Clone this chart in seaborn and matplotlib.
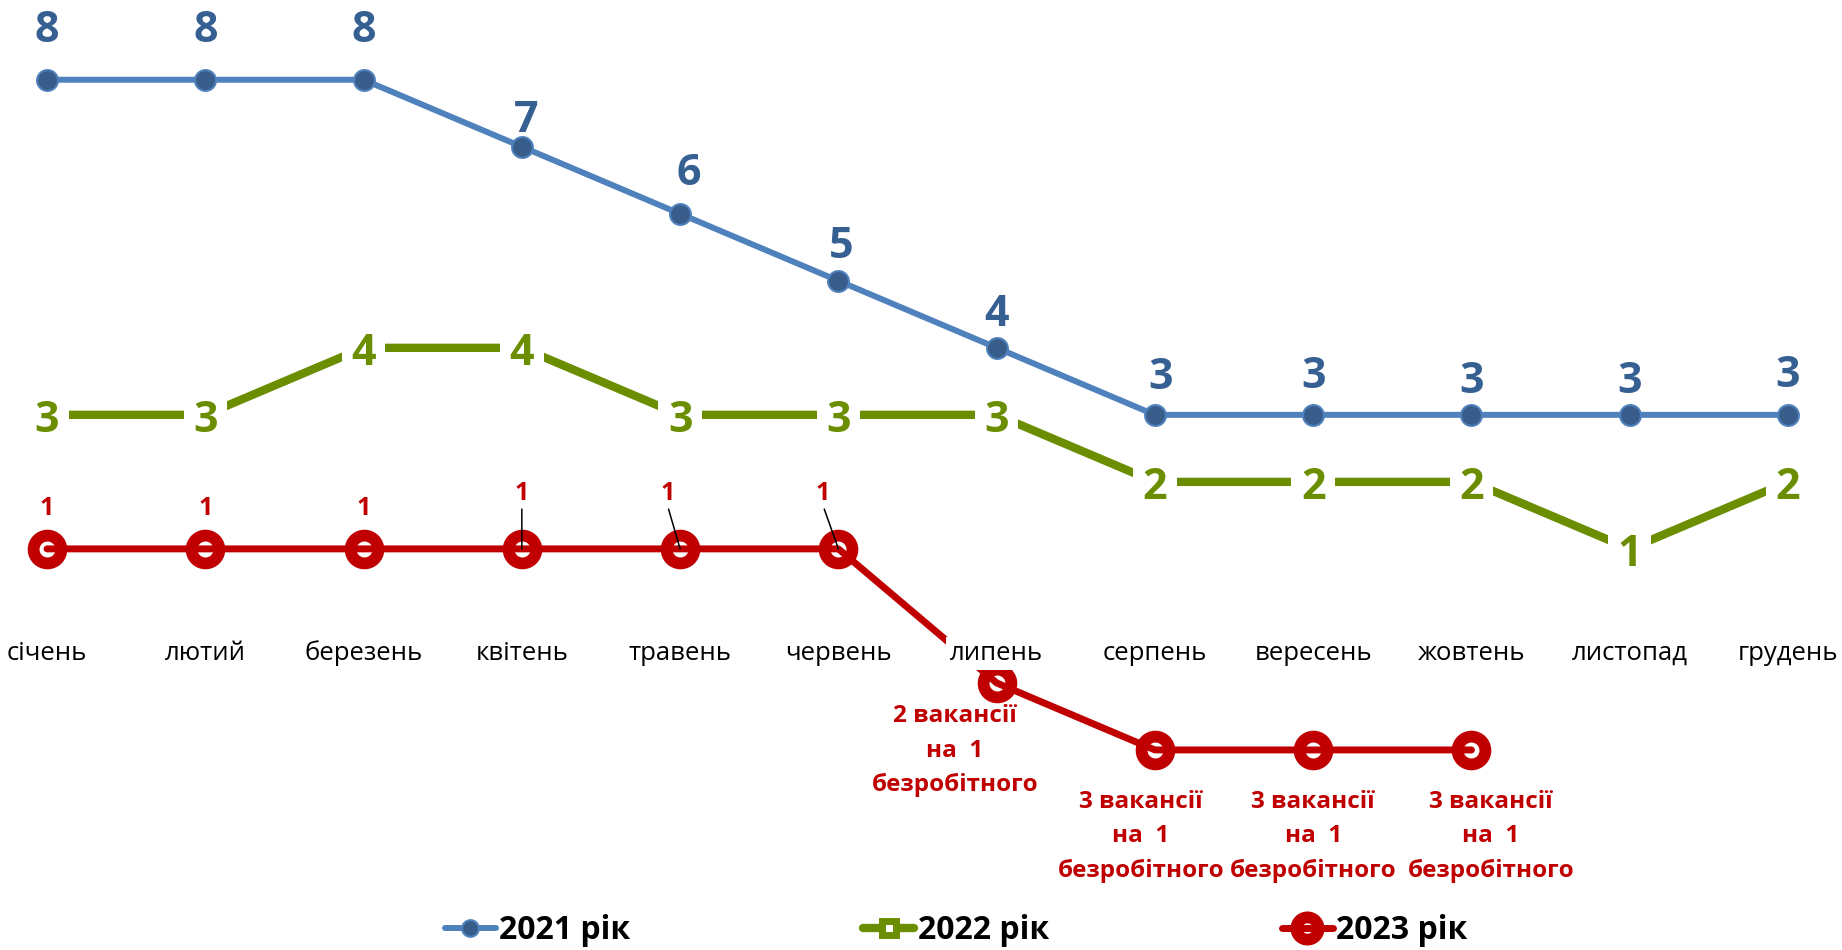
import numpy as np
import pandas as pd
import matplotlib
matplotlib.use("Agg")
import matplotlib.pyplot as plt
import seaborn as sns

# data
months = ["січень", "лютий", "березень", "квітень", "травень", "червень",
          "липень", "серпень", "вересень", "жовтень", "листопад", "грудень"]
y2021 = [8, 8, 8, 7, 6, 5, 4, 3, 3, 3, 3, 3]
y2022 = [3, 3, 4, 4, 3, 3, 3, 2, 2, 2, 1, 2]
y2023 = [1, 1, 1, 1, 1, 1, -1, -2, -2, -2]
labels2023 = ["1", "1", "1", "1", "1", "1",
              "2 вакансії\nна  1\nбезробітного",
              "3 вакансії\nна  1\nбезробітного",
              "3 вакансії\nна  1\nбезробітного",
              "3 вакансії\nна  1\nбезробітного"]
series_names = ["2021 рік", "2022 рік", "2023 рік"]

BLUE = "#4F81BD"
BLUE_DARK = "#385D8A"
BLUE_TXT = "#376092"
GREEN = "#6A8E00"
RED = "#C00000"

sns.set_theme(style="white")
plt.rcParams["font.family"] = ["Open Sans", "DejaVu Sans"]

fig = plt.figure(figsize=(18.42, 9.5), dpi=100)
ax = fig.add_axes([0, 0, 1, 1])

df21 = pd.DataFrame({"x": np.arange(len(y2021)), "y": y2021})
df22 = pd.DataFrame({"x": np.arange(len(y2022)), "y": y2022})
df23 = pd.DataFrame({"x": np.arange(len(y2023)), "y": y2023})

sns.lineplot(data=df21, x="x", y="y", ax=ax, sort=False, color=BLUE, lw=4.3,
             marker="o", markersize=15, markerfacecolor=BLUE_DARK,
             markeredgecolor=BLUE, markeredgewidth=1.5, label=series_names[0], zorder=3)
sns.lineplot(data=df22, x="x", y="y", ax=ax, sort=False, color=GREEN, lw=6,
             marker="s", markersize=13, markerfacecolor="white",
             markeredgecolor=GREEN, markeredgewidth=5, label=series_names[1], zorder=3)
sns.lineplot(data=df23, x="x", y="y", ax=ax, sort=False, color=RED, lw=5,
             marker="o", markersize=20, markerfacecolor="none",
             markeredgecolor=RED, markeredgewidth=8.5, label=series_names[2], zorder=3)

# blue data labels above points (hand placed in the original)
blue_offsets = [(0, 35.5), (0, 35.5), (0, 35.5), (3, 19), (6, 29), (2, 25),
                (0, 24), (4, 27), (0, 27.5), (0, 24), (0, 24), (0, 28.5)]
for i, v in enumerate(y2021):
    ax.annotate(str(v), (i, v), xytext=blue_offsets[i], textcoords="offset points",
                ha="center", va="center", fontsize=31, fontweight="bold",
                color=BLUE_TXT, zorder=6)

# green labels sit on the points and hide them
for i, v in enumerate(y2022):
    ax.annotate(str(v), (i, v), xytext=(0, -4), textcoords="offset points",
                ha="center", va="center", fontsize=31,
                fontweight="bold", color=GREEN, zorder=6,
                bbox=dict(boxstyle="square,pad=0.22", fc="white", ec="none"))

# red labels
red_offsets = [(0, 29), (0, 29), (0, 29), (0, 40), (-9, 40), (-11, 40),
               (-30, -49), (-10, -62), (0, -62), (14, -62)]
leader = [False, False, False, True, True, True, False, False, False, False]
for i, v in enumerate(y2023):
    big = v < 0
    kw = dict(arrowprops=dict(arrowstyle="-", color="black", lw=1.1,
                              shrinkA=0, shrinkB=0, relpos=(0.5, 0.0))) if leader[i] else {}
    ax.annotate(labels2023[i], (i, v), xytext=red_offsets[i], textcoords="offset points",
                ha="center", va="center", fontsize=17.5 if big else 18,
                fontweight="bold", color=RED, linespacing=1.58, zorder=7, **kw)

# month labels with white boxes on top of the lines
for i, m in enumerate(months):
    ax.text(i, -0.56, m, ha="center", va="center", fontsize=18.5, color="black",
            zorder=5, bbox=dict(boxstyle="square,pad=0.15", fc="white", ec="none"))

ax.set_xlim(-0.297, 11.341)
ax.set_ylim(-4.985, 9.19)
ax.axis("off")

leg = ax.legend(loc="lower center", bbox_to_anchor=(0.519, -0.004), ncol=3, frameon=False,
                prop=dict(weight="bold", size=23), handlelength=1.6,
                handletextpad=0.1, columnspacing=7.3, borderaxespad=0.1, borderpad=0.1)
for t in leg.get_texts():
    t.set_color("black")
for h in leg.legend_handles:
    h.set_markersize(h.get_markersize() * 0.8)

fig.savefig("out.png", dpi=100)
